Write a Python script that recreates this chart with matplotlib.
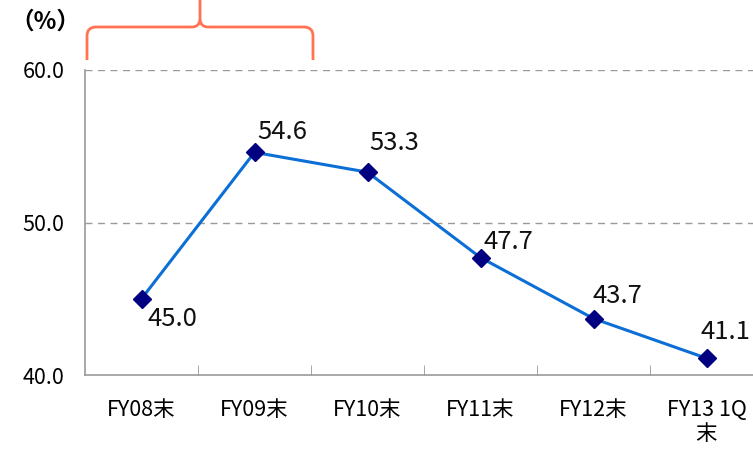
import matplotlib.pyplot as plt
from matplotlib.path import Path
from matplotlib.patches import PathPatch

plt.rcParams['font.family'] = ['Noto Sans CJK JP', 'DejaVu Sans']

categories = ['FY08末', 'FY09末', 'FY10末', 'FY11末', 'FY12末', 'FY13 1Q\n末']
values = [45.0, 54.6, 53.3, 47.7, 43.7, 41.1]
yticks = [40.0, 50.0, 60.0]

W, H = 753, 449
fig = plt.figure(figsize=(W / 100, H / 100), dpi=100)
ax = fig.add_axes([85 / W, 74 / H, 678 / W, 305 / H])

x = list(range(len(values)))
ax.plot(x, values, color='#0B6FD6', lw=2.2, marker='D', ms=9.5,
        mfc='#000080', mec='#000080', zorder=3)

# data labels (offset of baseline-left from the point, pixels)
offsets = [(6, -27), (3, 13), (2, 22), (3, 9), (-1, 16), (-6, 19)]
for xi, v, (dx, dy) in zip(x, values, offsets):
    ax.annotate(f'{v:.1f}', (xi, v), xytext=(dx, dy), textcoords='offset pixels',
                ha='left', va='baseline', fontsize=18.5, color='#111111')

ax.set_xlim(-0.5, len(values) - 0.5)
ax.set_ylim(40, 60)
ax.set_yticks(yticks)
ax.set_yticklabels([f'{t:.1f}' for t in yticks], fontsize=15.5)
ax.set_xticks(x)
ax.set_xticklabels(categories, fontsize=15.5, linespacing=1.15)
ax.set_xticks([i + 0.5 for i in x[:-1]], minor=True)
ax.tick_params(axis='x', which='major', length=0, pad=17)
ax.tick_params(axis='x', which='minor', direction='in', length=7, color='#999999')
ax.tick_params(axis='y', length=0, pad=15)

for yv in [50, 60]:
    ax.axhline(yv, color='#999999', lw=1, ls=(0, (5, 4)), zorder=1)

for s in ['top', 'right']:
    ax.spines[s].set_visible(False)
for s in ['left', 'bottom']:
    ax.spines[s].set_color('#999999')
    ax.spines[s].set_linewidth(1.2)

fig.text(10 / W, 1 - 22 / H, '（%）', fontsize=17, fontweight='bold', va='center', ha='left')

# bracket above FY08-FY09
def fp(px, py):
    return (px / W, 1 - py / H)

verts = [fp(87, 60), fp(87, 36), fp(87, 27), fp(96, 27),
         fp(192, 27), fp(199, 27), fp(200, 20), fp(200, 0)]
codes = [Path.MOVETO, Path.LINETO, Path.CURVE3, Path.CURVE3,
         Path.LINETO, Path.CURVE3, Path.CURVE3, Path.LINETO]
verts2 = [fp(313, 60), fp(313, 36), fp(313, 27), fp(304, 27),
          fp(208, 27), fp(201, 27), fp(200, 20)]
codes2 = [Path.MOVETO, Path.LINETO, Path.CURVE3, Path.CURVE3,
          Path.LINETO, Path.CURVE3, Path.CURVE3]
for vv, cc in [(verts, codes), (verts2, codes2)]:
    fig.add_artist(PathPatch(Path(vv, cc), transform=fig.transFigure,
                             fill=False, ec='#FF7352', lw=2))

fig.savefig('out.png', dpi=100)
